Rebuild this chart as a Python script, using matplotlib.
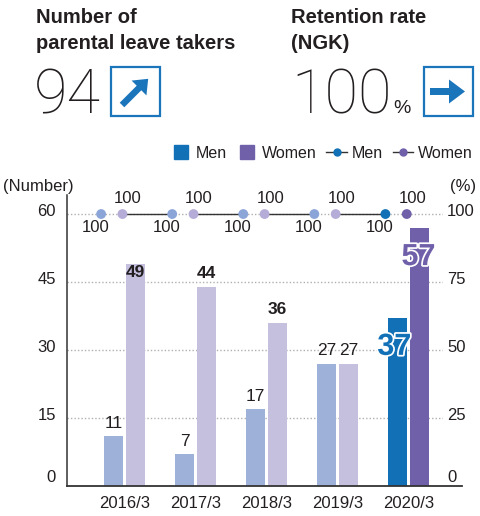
import numpy as np
import matplotlib
matplotlib.use('Agg')
import matplotlib.pyplot as plt
from matplotlib.lines import Line2D
from matplotlib.patches import Rectangle, FancyArrow
from matplotlib.transforms import ScaledTranslation
import matplotlib.patheffects as pe

plt.rcParams['font.family'] = ['Liberation Sans Narrow', 'Liberation Sans', 'DejaVu Sans']

# data
years = ['2016/3', '2017/3', '2018/3', '2019/3', '2020/3']
men_takers = [11, 7, 17, 27, 37]
women_takers = [49, 44, 36, 27, 57]
men_retention = [100, 100, 100, 100, 100]
women_retention = [100, 100, 100, 100, 100]
total_takers = 94
retention_now = 100

txt = '#231f20'
men_pale, women_pale = '#9eb1d9', '#c6c0df'
men_c, women_c = '#1170b6', '#6f60a9'
men_mk, women_mk = '#8ba5d8', '#b5acd8'
box_c = '#1b75bb'

W, H = 480, 516
fig = plt.figure(figsize=(W / 100, H / 100), dpi=100)

# header overlay in pixel coords
hd = fig.add_axes([0, 0, 1, 1])
hd.set_xlim(0, W)
hd.set_ylim(H, 0)
hd.axis('off')
hfont = ['Liberation Sans', 'DejaVu Sans']
hd.text(36, 23, 'Number of', fontsize=14.5, fontweight='bold', color=txt, family=hfont)
hd.text(36, 49, 'parental leave takers', fontsize=14.5, fontweight='bold', color=txt, family=hfont)
hd.text(291, 23, 'Retention rate', fontsize=14.5, fontweight='bold', color=txt, family=hfont)
hd.text(291, 49, '(NGK)', fontsize=14.5, fontweight='bold', color=txt, family=hfont)
bigfont = ['Roboto', 'DejaVu Sans']
hd.text(34, 113, str(total_takers), fontsize=44, fontweight='light', color=txt, family=bigfont)
hd.text(291, 113, str(retention_now), fontsize=44, fontweight='light', color=txt, family=bigfont)
hd.text(393, 113, '%', fontsize=14, color=txt, family=hfont)
for bx in (111, 424):
    hd.add_patch(Rectangle((bx, 67), 49, 49, fill=False, ec=box_c, lw=1.6))
hd.add_patch(FancyArrow(122, 105, 17, -17, width=6.5, head_width=21, head_length=13,
                        color=box_c, lw=0))
hd.add_patch(FancyArrow(430, 91.5, 19, 0, width=7, head_width=24, head_length=16,
                        color=box_c, lw=0))

# main chart
ax = fig.add_axes([67 / W, 1 - 486 / H, (443 - 67) / W, (486 - 195) / H])
x = np.arange(len(years))
off, bw = 0.155, 0.27
mcol = [men_pale] * (len(years) - 1) + [men_c]
wcol = [women_pale] * (len(years) - 1) + [women_c]
ax.bar(x - off, men_takers, bw, color=mcol, zorder=3)
ax.bar(x + off, women_takers, bw, color=wcol, zorder=3)

ax.set_xlim(-0.81, 4.48)
ax.set_ylim(0, 64.2)
ax.set_yticks([0, 15, 30, 45, 60])
ax.set_xticks(x)
ax.set_xticklabels(years)
ax.tick_params(length=0, labelsize=12, colors=txt)
ax.tick_params(axis='y', pad=8)
ax.tick_params(axis='x', pad=7)
for s in ('top', 'right', 'bottom'):
    ax.spines[s].set_visible(False)
ax.spines['left'].set_color('#333333')
ax.spines['left'].set_linewidth(1.1)
ax.plot([0, 1.05], [0, 0], transform=ax.get_yaxis_transform(), color='#333333',
        lw=1.3, clip_on=False, zorder=4)
ax.hlines([15, 30, 45, 60], -0.81, 4.48, colors='#b0b0b0', linestyles=(0, (1, 1.5)),
          lw=1, zorder=1)

# bar labels
for i in range(len(years) - 1):
    ax.text(x[i] - off, men_takers[i] + 1.2, str(men_takers[i]), ha='center', va='bottom',
            fontsize=12.5, color=txt, zorder=5)
    wy = min(women_takers[i] + 1.2, 45.5)
    wt = 'bold' if women_takers[i] != men_takers[i] else 'normal'
    ax.text(x[i] + off, wy, str(women_takers[i]), ha='center', va='bottom',
            fontsize=12.5, color=txt, fontweight=wt, zorder=5)
big = [pe.withStroke(linewidth=2.5, foreground='white')]
ax.text(x[-1] - off - 0.05, men_takers[-1] - 6.3, str(men_takers[-1]), ha='center',
        va='center', fontsize=22, fontweight='bold', color=men_c,
        path_effects=big, zorder=6)
ax.text(x[-1] + off - 0.02, women_takers[-1] - 6.5, str(women_takers[-1]), ha='center',
        va='center', fontsize=22, fontweight='bold', color=women_c,
        path_effects=big, zorder=6)

# retention rate on right axis
ax2 = ax.twinx()
ax2.set_ylim(0, 64.2 / 60 * 100)
ax2.set_yticks([0, 25, 50, 75, 100])
ax2.tick_params(length=0, labelsize=12, colors=txt, pad=3)
for s in ax2.spines.values():
    s.set_visible(False)

# tick labels sit a little above their gridlines
for a in (ax, ax2):
    for j, lab in enumerate(a.get_yticklabels()):
        up = 10 if j == 0 else 4
        lab.set_transform(lab.get_transform() + ScaledTranslation(0, up / 100, fig.dpi_scale_trans))

mo, wo = -0.33, -0.03
for i in range(len(years) - 1):
    ax2.plot([x[i] + wo, x[i + 1] + mo], [women_retention[i], men_retention[i + 1]],
             color='#333333', lw=1, zorder=3)
mk_m = [men_mk] * (len(years) - 1) + [men_c]
mk_w = [women_mk] * (len(years) - 1) + [women_c]
ax2.scatter(x + mo, men_retention, s=50, c=mk_m, zorder=4, linewidths=0)
ax2.scatter(x + wo, women_retention, s=50, c=mk_w, zorder=4, linewidths=0)
for i in range(len(years)):
    ax2.annotate(str(men_retention[i]), (x[i] + mo, men_retention[i]), xytext=(-4, -10),
                 textcoords='offset points', ha='center', va='center', fontsize=12, color=txt)
    ax2.annotate(str(women_retention[i]), (x[i] + wo, women_retention[i]), xytext=(4, 11.5),
                 textcoords='offset points', ha='center', va='center', fontsize=12, color=txt)

fig.text(38 / W, 1 - 186 / H, '(Number)', ha='center', va='center', fontsize=12, color=txt)
fig.text(463 / W, 1 - 186 / H, '(%)', ha='center', va='center', fontsize=12, color=txt)

# legend
handles = [
    Line2D([], [], ls='none', marker='s', ms=10, color=men_c),
    Line2D([], [], ls='none', marker='s', ms=10, color=women_c),
    Line2D([], [], color='#333333', lw=1, marker='o', ms=5, mfc=men_c, mec=men_c),
    Line2D([], [], color='#333333', lw=1, marker='o', ms=5, mfc=women_c, mec=women_c),
]
fig.legend(handles, ['Men', 'Women', 'Men', 'Women'], loc='center right',
           bbox_to_anchor=(481 / W, 1 - 153 / H), ncol=4, frameon=False, fontsize=11.5,
           handlelength=1.3, handletextpad=0.3, columnspacing=0.6, borderpad=0,
           labelcolor=txt)

fig.savefig('out.png', dpi=100)
